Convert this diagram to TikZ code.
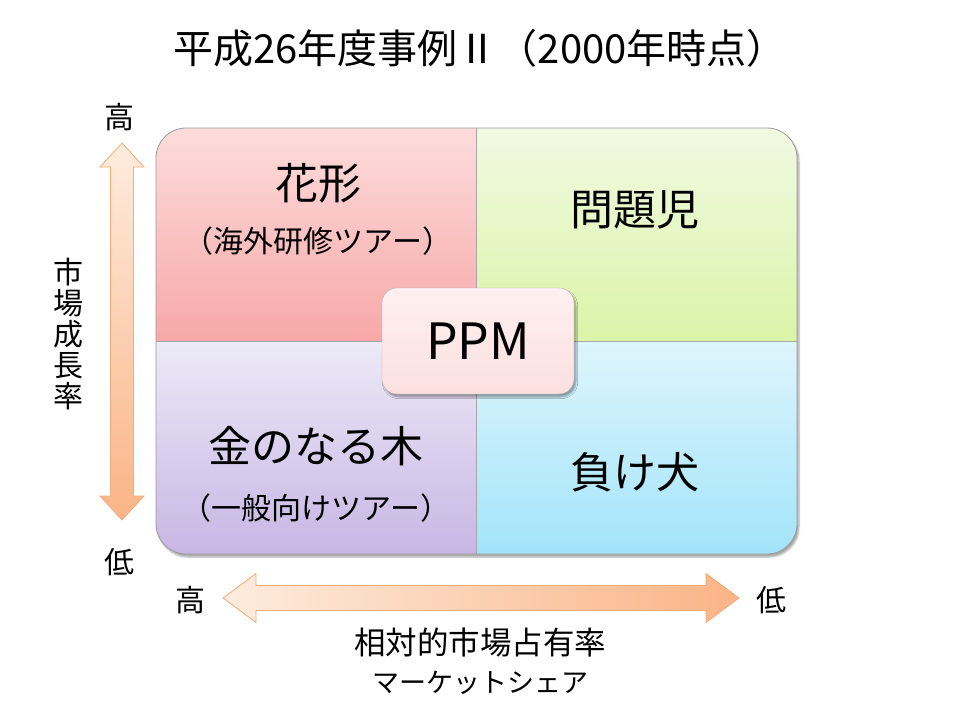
\documentclass[tikz,border=0pt]{standalone}
\usepackage{fontspec}
\newfontfamily\jpfont{Noto Sans CJK JP}
\usetikzlibrary{shadows.blur}

\definecolor{starTop}{RGB}{253,220,220}
\definecolor{starBot}{RGB}{247,168,168}
\definecolor{probTop}{RGB}{242,249,226}
\definecolor{probBot}{RGB}{218,244,168}
\definecolor{cowTop}{RGB}{236,234,247}
\definecolor{cowBot}{RGB}{200,182,228}
\definecolor{dogTop}{RGB}{222,245,252}
\definecolor{dogBot}{RGB}{162,228,250}
\definecolor{arrLight}{RGB}{253,236,222}
\definecolor{arrDark}{RGB}{250,180,134}
\definecolor{arrEdge}{RGB}{240,172,124}
\definecolor{ppmTop}{RGB}{254,240,240}
\definecolor{ppmBot}{RGB}{252,224,224}

\begin{document}
\begin{tikzpicture}[
    x=1pt, y=-1pt,
    font=\jpfont,
    quadtitle/.style={font=\jpfont\fontsize{43}{50}\selectfont},
    quadsub/.style={font=\jpfont\fontsize{30}{34}\selectfont},
    axistext/.style={font=\jpfont\fontsize{30}{31}\selectfont, align=center},
    fatarrow/.style={draw=arrEdge, line width=0.8pt},
    ppmbox/.style={
      draw=gray!60, rounded corners=15pt,
      top color=ppmTop, bottom color=ppmBot,
      minimum width=192pt, minimum height=106pt,
      font=\jpfont\fontsize{50}{58}\selectfont,
      blur shadow={shadow xshift=2pt, shadow yshift=-3pt, shadow opacity=35}
    }
  ]
  \useasboundingbox (0,0) rectangle (960,720);

  % title
  \node[font=\jpfont\fontsize{40}{48}\selectfont] (title) at (480,48)
    {平成26年度事例Ⅱ（2000年時点）};

  % matrix background
  \path[rounded corners=30pt, fill=white,
    blur shadow={shadow xshift=2pt, shadow yshift=-3pt, shadow opacity=35}]
    (156,128) rectangle (797,554);
  \begin{scope}
    \clip[rounded corners=30pt] (156,128) rectangle (797,554);
    \path[top color=starTop, bottom color=starBot] (156,128) rectangle (476,341);
    \path[top color=probTop, bottom color=probBot] (476,128) rectangle (797,341);
    \path[top color=cowTop, bottom color=cowBot] (156,341) rectangle (476,554);
    \path[top color=dogTop, bottom color=dogBot] (476,341) rectangle (797,554);
  \end{scope}
  \draw[gray!70, line width=0.7pt] (476,128) -- (476,554);
  \draw[gray!70, line width=0.7pt] (156,341) -- (797,341);
  \draw[gray!80, line width=0.8pt, rounded corners=30pt] (156,128) rectangle (797,554);

  % quadrant labels
  \node[quadtitle] (star) at (318,183) {花形};
  \node[quadsub] (starsub) at (318,241) {（海外研修ツアー）};
  \node[quadtitle] (prob) at (635,210) {問題児};
  \node[quadtitle] (cow) at (316,446) {金のなる木};
  \node[quadsub] (cowsub) at (316,508) {（一般向けツアー）};
  \node[quadtitle] (dog) at (635,472) {負け犬};

  \node[ppmbox] (ppm) at (478,341) {PPM};

  % growth axis
  \path[fatarrow, top color=arrLight, bottom color=arrDark]
    (122,143) -- (144,167) -- (133.5,167) -- (133.5,496) -- (144,496)
    -- (122,520) -- (100,496) -- (110.5,496) -- (110.5,167) -- (100,167) -- cycle;
  \node[axistext] (vhigh) at (119,117) {高};
  \node[axistext] (vlow) at (119,562) {低};
  \node[axistext] (vtitle) at (68,334) {市\\場\\成\\長\\率};

  % share axis
  \path[fatarrow, left color=arrLight, right color=arrDark]
    (223,598) -- (256,573.5) -- (256,585.5) -- (706,585.5) -- (706,573.5)
    -- (739,598) -- (706,622.5) -- (706,610.5) -- (256,610.5) -- (256,622.5) -- cycle;
  \node[axistext] (hhigh) at (190,600) {高};
  \node[axistext] (hlow) at (771,600) {低};
  \node[axistext, font=\jpfont\fontsize{31.5}{33}\selectfont] (htitle) at (480,643) {相対的市場占有率};
  \node[axistext, font=\jpfont\fontsize{27}{30}\selectfont] (hsub) at (480,683) {マーケットシェア};
\end{tikzpicture}
\end{document}
